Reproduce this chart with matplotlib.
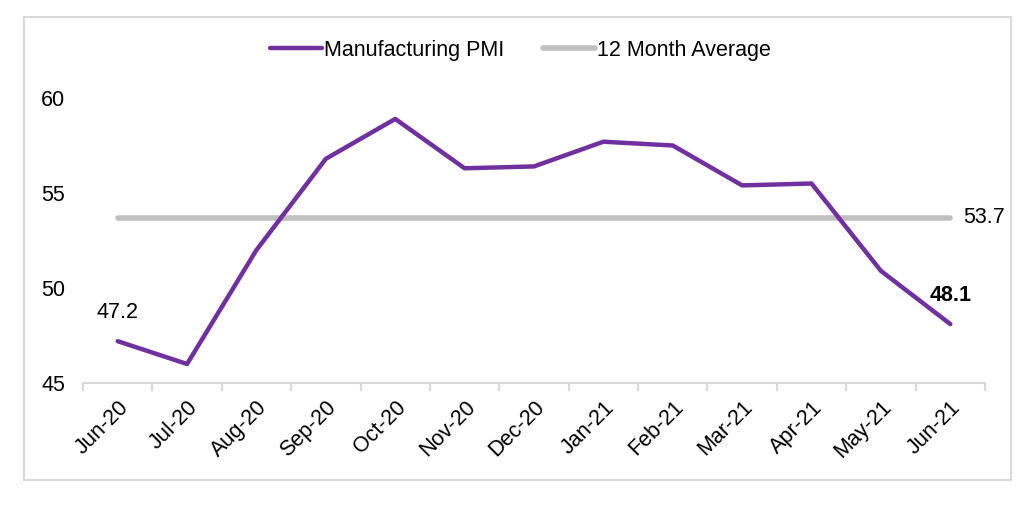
import matplotlib.pyplot as plt
from matplotlib.patches import Rectangle

plt.rcParams['font.family'] = ['Liberation Sans', 'DejaVu Sans']

# data
months = ["Jun-20", "Jul-20", "Aug-20", "Sep-20", "Oct-20", "Nov-20", "Dec-20",
          "Jan-21", "Feb-21", "Mar-21", "Apr-21", "May-21", "Jun-21"]
pmi = [47.2, 46.0, 52.0, 56.8, 58.9, 56.3, 56.4, 57.7, 57.5, 55.4, 55.5, 50.9, 48.1]
avg_12m = 53.7

purple = "#7030a0"
grey = "#bfbfbf"
fs = 15.5

fig = plt.figure(figsize=(10.35, 5.11), dpi=100)
ax = fig.add_axes([0.0802, 0.2505, 0.8715, 0.5577])

x = list(range(len(months)))
ax.plot(x, pmi, color=purple, lw=3.2, solid_capstyle="round", label="Manufacturing PMI", zorder=3)
ax.plot(x, [avg_12m] * len(x), color=grey, lw=4, solid_capstyle="round", label="12 Month Average", zorder=2)

# labels
ax.annotate(f"{pmi[0]}", (x[0], pmi[0]), xytext=(0, 13), textcoords="offset points",
            ha="center", va="bottom", fontsize=fs)
ax.annotate(f"{pmi[-1]}", (x[-1], pmi[-1]), xytext=(0, 13), textcoords="offset points",
            ha="center", va="bottom", fontsize=fs, fontweight="bold")
ax.annotate(f"{avg_12m}", (x[-1], avg_12m), xytext=(9, 0), textcoords="offset points",
            ha="left", va="center", fontsize=fs)

ax.set_xlim(-0.5, len(months) - 0.5)
ax.set_ylim(45, 60)
ax.set_yticks([45, 50, 55, 60])
ax.set_xticks(x)
ax.set_xticklabels(months, rotation=45, ha="right", rotation_mode="anchor")
ax.set_xticks([i - 0.5 for i in range(len(months) + 1)], minor=True)
ax.tick_params(axis="x", which="major", length=0, pad=10, labelsize=fs)
ax.tick_params(axis="x", which="minor", length=6, color="#d9d9d9", width=1.5)
ax.tick_params(axis="y", length=0, pad=13, labelsize=fs)

for s in ["top", "right", "left"]:
    ax.spines[s].set_visible(False)
ax.spines["bottom"].set_color("#d9d9d9")
ax.spines["bottom"].set_linewidth(1.5)

ax.legend(loc="center", bbox_to_anchor=(0.503, 0.902), bbox_transform=fig.transFigure,
          ncol=2, frameon=False, fontsize=fs, handlelength=2.4, handletextpad=0.1,
          columnspacing=1.8)

fig.patches.append(Rectangle((0.0232, 0.0607), 0.9536, 0.906, transform=fig.transFigure,
                             fill=False, edgecolor="#d9d9d9", lw=1.5))

fig.savefig("out.png", dpi=100)
